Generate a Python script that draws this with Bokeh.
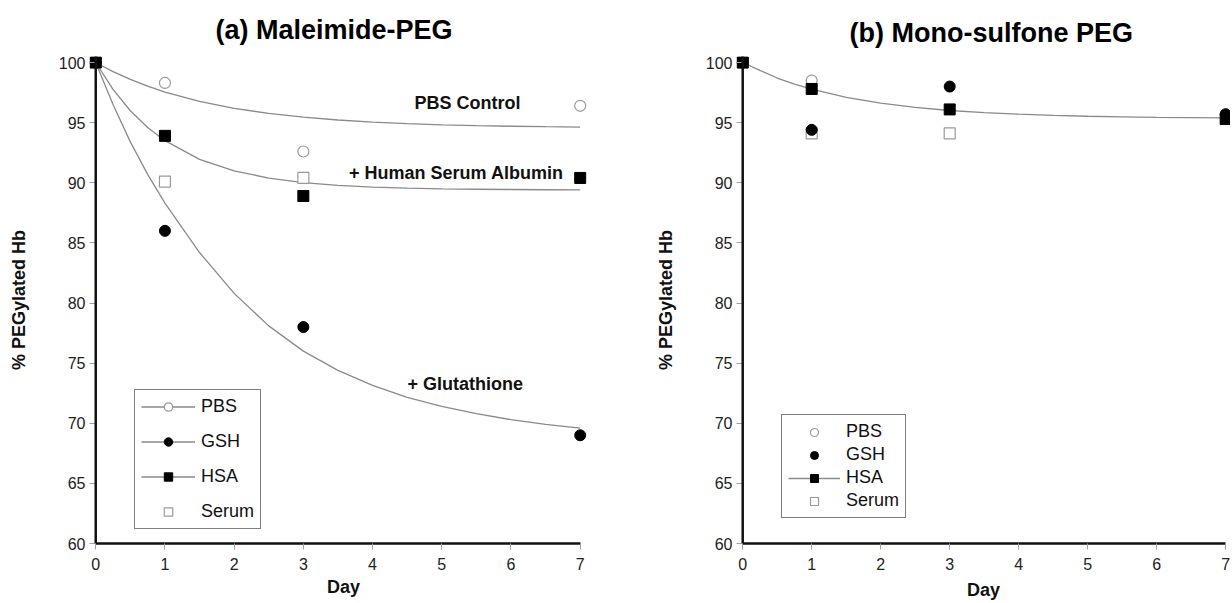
from bokeh.plotting import figure
from bokeh.layouts import row
from bokeh.models import Range1d, Legend, LegendItem, Label, Span
from bokeh.embed import file_html
from bokeh.resources import INLINE

# ---------------- data ----------------
days = [0, 1, 3, 7]
days_short = [0, 1, 3]

# (a) Maleimide-PEG
a_pbs = [100, 98.3, 92.6, 96.4]
a_gsh = [100, 86.0, 78.0, 69.0]
a_hsa = [100, 93.9, 88.9, 90.4]
a_serum = [100, 90.1, 90.4]

# (b) Mono-sulfone PEG
b_pbs_days = [0, 1]
b_pbs = [100, 98.5]
b_gsh = [100, 94.4, 98.0, 95.7]
b_hsa = [100, 97.8, 96.1, 95.3]
b_serum = [100, 94.1, 94.1]

# fitted curves
fit_days = [0, 0.25, 0.5, 0.75, 1, 1.5, 2, 2.5, 3, 3.5, 4, 4.5, 5, 5.5, 6, 6.5, 7]
a_fit_pbs = [100, 99.24, 98.59, 98.03, 97.54, 96.77, 96.19, 95.77, 95.45, 95.22,
             95.04, 94.92, 94.82, 94.75, 94.70, 94.66, 94.63]
a_fit_hsa = [100, 97.76, 95.99, 94.60, 93.50, 91.95, 90.99, 90.39, 90.01, 89.78,
             89.64, 89.55, 89.49, 89.46, 89.44, 89.42, 89.41]
a_fit_gsh = [100, 96.50, 93.40, 90.70, 88.30, 84.20, 80.80, 78.10, 76.00, 74.40,
             73.15, 72.15, 71.40, 70.80, 70.30, 69.90, 69.60]
b_fit_hsa = [100, 99.35, 98.71, 98.20, 97.78, 97.10, 96.62, 96.27, 96.01, 95.83,
             95.70, 95.60, 95.53, 95.48, 95.44, 95.42, 95.40]

x_ticks = [0, 1, 2, 3, 4, 5, 6, 7]
y_ticks = [60, 65, 70, 75, 80, 85, 90, 95, 100]

FONT = "Liberation Sans"
CURVE = "#8a8a8a"
OPEN = "#9a9a9a"
AXIS = "#111111"
TICK = "#a0a0a0"
H = 602


def make_fig(width, border_left, border_right, x_end, title, title_offset,
             title_standoff, day_standoff):
    p = figure(width=width, height=H, output_backend="svg", toolbar_location=None,
               x_range=Range1d(-0.09, x_end), y_range=Range1d(60, 100.5),
               min_border_left=border_left, min_border_right=border_right,
               min_border_top=56, min_border_bottom=H - 545)
    p.outline_line_color = None
    p.grid.visible = False
    p.background_fill_color = "white"

    p.title.text = title
    p.title.text_font = FONT
    p.title.text_font_size = "27px"
    p.title.text_font_style = "bold"
    p.title.align = "left"
    p.title.offset = title_offset
    p.title.standoff = title_standoff
    p.title.text_color = "black"

    xa = p.xaxis[0]
    ya = p.yaxis[0]
    xa.ticker = x_ticks
    ya.ticker = y_ticks
    xa.bounds = (0, 7)
    ya.bounds = (60, 100)

    for ax in (xa, ya):
        ax.minor_tick_line_color = None
        ax.major_tick_line_color = TICK
        ax.major_tick_line_width = 1
        ax.major_label_text_font = FONT
        ax.major_label_text_font_size = "16px"
        ax.major_label_text_color = "#222222"
        ax.axis_label_text_font = FONT
        ax.axis_label_text_font_size = "18px"
        ax.axis_label_text_font_style = "bold"
        ax.axis_label_text_color = AXIS

    # y axis: labels at the frame edge, ticks reaching in to the day-0 line
    ya.axis_line_color = None
    ya.major_tick_out = 0
    ya.major_tick_in = 6
    ya.major_label_standoff = 4
    ya.axis_label_standoff = 27
    ya.axis_label = "% PEGylated Hb"
    p.add_layout(Span(location=0, dimension="height", line_color=AXIS,
                      line_width=2.5))

    xa.axis_line_color = AXIS
    xa.axis_line_width = 2.5
    xa.major_tick_in = 0
    xa.major_tick_out = 6
    xa.major_label_standoff = 8
    xa.axis_label_standoff = day_standoff
    xa.axis_label = "Day"
    return p


def open_circle(p, x, y):
    return p.scatter(x, y, marker="circle", size=11, fill_color="white",
                     line_color=OPEN, line_width=1.2)


def open_square(p, x, y):
    return p.scatter(x, y, marker="square", size=11, fill_color="white",
                     line_color=OPEN, line_width=1.2)


def black(p, x, y, marker):
    return p.scatter(x, y, marker=marker, size=11, fill_color="black",
                     line_color="black", line_width=1)


def style_legend(lg, pad, lh, sp, gw):
    lg.padding = pad
    lg.margin = 0
    lg.label_height = lh
    lg.glyph_height = lh
    lg.glyph_width = gw
    lg.spacing = sp
    lg.label_standoff = 6
    lg.label_text_font = FONT
    lg.label_text_font_size = "18px"
    lg.label_text_color = "#111111"
    lg.border_line_color = "black"
    lg.border_line_width = 1.5
    lg.background_fill_color = "white"
    lg.background_fill_alpha = 1


# ---------------- panel (a) ----------------
p1 = make_fig(607, 89, 10, 7.25, "(a)  Maleimide-PEG", 126, 23, 4)
c_pbs = p1.line(fit_days, a_fit_pbs, line_color=CURVE, line_width=1.3)
c_hsa = p1.line(fit_days, a_fit_hsa, line_color=CURVE, line_width=1.3)
c_gsh = p1.line(fit_days, a_fit_gsh, line_color=CURVE, line_width=1.3)
s_pbs = open_circle(p1, days, a_pbs)
s_serum = open_square(p1, days_short, a_serum)
s_gsh = black(p1, days, a_gsh, "circle")
s_hsa = black(p1, days, a_hsa, "square")

for txt, x, y in [("PBS Control", 5.37, 96.6),
                  ("+ Human Serum Albumin", 5.21, 90.8),
                  ("+ Glutathione", 5.34, 73.3)]:
    p1.add_layout(Label(x=x, y=y, text=txt, text_font=FONT, text_font_size="18px",
                        text_font_style="bold", text_align="center",
                        text_baseline="middle", text_color="#111111"))

lg1 = Legend(items=[LegendItem(label="PBS", renderers=[c_pbs, s_pbs]),
                    LegendItem(label="GSH", renderers=[c_gsh, s_gsh]),
                    LegendItem(label="HSA", renderers=[c_hsa, s_hsa]),
                    LegendItem(label="Serum", renderers=[s_serum])],
             location=(45, 14))
style_legend(lg1, 6, 21, 14, 54)
p1.add_layout(lg1)

# ---------------- panel (b) ----------------
p2 = make_fig(623, 129, 0, 7.07, "(b) Mono-sulfone PEG", 113, 17, 7)
d_hsa = p2.line(fit_days, b_fit_hsa, line_color=CURVE, line_width=1.3)
t_pbs = open_circle(p2, b_pbs_days, b_pbs)
t_serum = open_square(p2, days_short, b_serum)
t_gsh = black(p2, days, b_gsh, "circle")
t_hsa = black(p2, days, b_hsa, "square")

lg2 = Legend(items=[LegendItem(label="PBS", renderers=[t_pbs]),
                    LegendItem(label="GSH", renderers=[t_gsh]),
                    LegendItem(label="HSA", renderers=[d_hsa, t_hsa]),
                    LegendItem(label="Serum", renderers=[t_serum])],
             location=(45, 25))
style_legend(lg2, 6, 20, 2, 52)
p2.add_layout(lg2)

layout = row(p1, p2)
open("out.html", "w").write(file_html(layout, INLINE))
